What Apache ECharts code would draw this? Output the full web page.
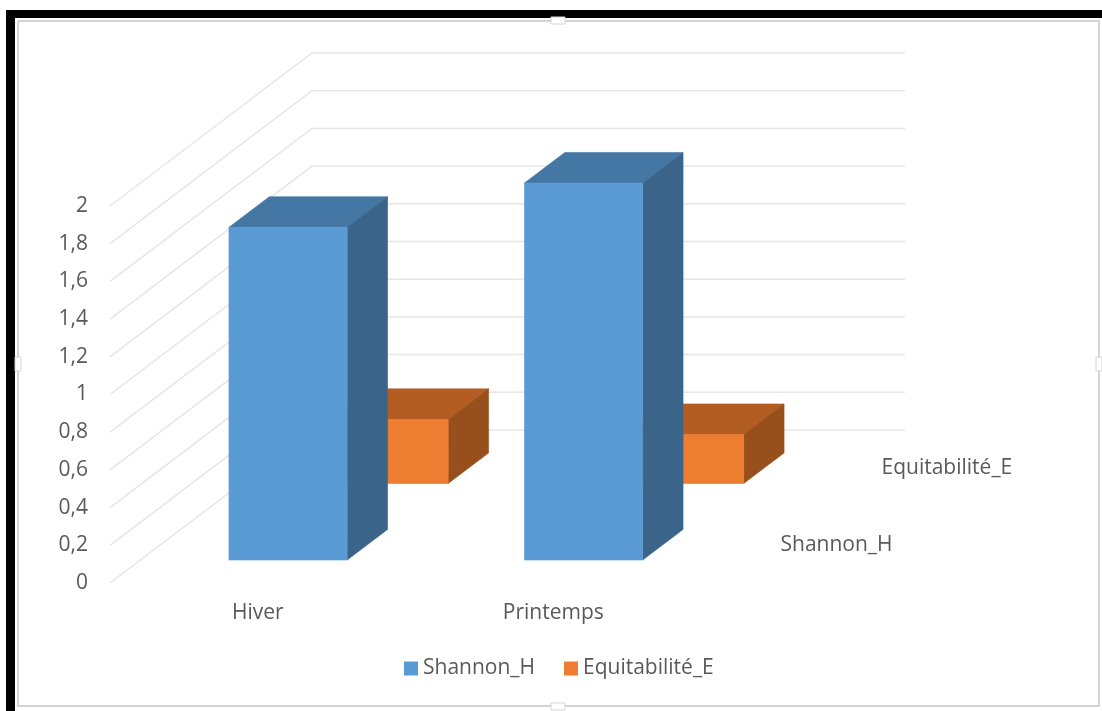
<!DOCTYPE html>
<html><head><meta charset="utf-8">
<style>html,body{margin:0;padding:0;background:#fff}#c{width:1102px;height:711px}</style>
<script src="https://cdn.jsdelivr.net/npm/echarts@6/dist/echarts.min.js"></script>
</head><body><div id="c"></div>
<script>
const categories = ['Hiver', 'Printemps'];
const seriesNames = ['Shannon_H', 'Equitabilité_E'];
const shannonValues = [1.765, 2.0];
const equitabiliteValues = [0.34, 0.26];
const yTicks = [0, 0.2, 0.4, 0.6, 0.8, 1, 1.2, 1.4, 1.6, 1.8, 2];

const DEPTH = [202, -153];            // oblique projection of the full depth axis
const FONT = 'Open Sans';
const TXT = '#595959';
const at = (p, d) => [p[0] + DEPTH[0] * d, p[1] + DEPTH[1] * d];
const poly = (points, fill) => ({ type: 'polygon', shape: { points }, style: { fill, stroke: fill, lineWidth: 0.6 } });

function barSeries(name, values, depthStart, colors, z) {
  const depthLen = 0.2;
  return {
    name, type: 'custom', coordinateSystem: 'cartesian2d', z,
    itemStyle: { color: colors.front },
    encode: { x: 0, y: 1 },
    data: values.map((v, i) => [i, v]),
    renderItem(params, api) {
      const bw = api.size([1, 0])[0] * 0.4;
      const top = api.coord([api.value(0), api.value(1)]);
      const base = api.coord([api.value(0), 0]);
      const l = top[0] - bw / 2, r = top[0] + bw / 2;
      const ftl = at([l, top[1]], depthStart), ftr = at([r, top[1]], depthStart);
      const fbl = at([l, base[1]], depthStart), fbr = at([r, base[1]], depthStart);
      const D = depthStart + depthLen;
      const btl = at([l, top[1]], D), btr = at([r, top[1]], D), bbr = at([r, base[1]], D);
      return { type: 'group', children: [
        poly([ftl, ftr, btr, btl], colors.top),
        poly([ftr, fbr, bbr, btr], colors.side),
        poly([ftl, ftr, fbr, fbl], colors.front)
      ]};
    }
  };
}

const wallSeries = {
  type: 'custom', coordinateSystem: 'cartesian2d', z: 1, silent: true,
  data: yTicks.map(v => [0, v]),
  encode: { y: 1 },
  renderItem(params, api) {
    const y = api.coord([0, api.value(1)])[1];
    const g = params.coordSys;
    const a = [g.x, y], b = at(a, 1), c = [b[0] + g.width + 2, b[1]];
    return { type: 'polyline', shape: { points: [a, b, c] },
      style: { stroke: '#e6e6e6', lineWidth: 1.5, fill: null } };
  }
};

const depthLabelSeries = {
  type: 'custom', coordinateSystem: 'cartesian2d', z: 1, silent: true,
  data: seriesNames.map((n, i) => [1, 0, i]),
  encode: { y: 1 },
  renderItem(params, api) {
    const i = api.value(2);
    const g = params.coordSys;
    const p = at([g.x + g.width, g.y + g.height], i === 0 ? 0.25 : 0.75);
    return { type: 'text', x: p[0] + 29, y: p[1],
      style: { text: seriesNames[i], fill: TXT, font: '21px "' + FONT + '"', align: 'left', verticalAlign: 'middle' } };
  }
};

const frame = [
  { type: 'rect', shape: { x: 6, y: 10, width: 1096, height: 8 }, style: { fill: '#000' } },
  { type: 'rect', shape: { x: 6, y: 10, width: 9, height: 701 }, style: { fill: '#000' } },
  { type: 'polyline', shape: { points: [[18, 21], [1099, 21], [1099, 706], [18, 706], [18, 21]] },
    style: { stroke: '#d4d4d4', lineWidth: 2, fill: null } },
  { type: 'rect', shape: { x: 551, y: 17, width: 14, height: 7 }, style: { fill: '#fff', stroke: '#d4d4d4', lineWidth: 1 } },
  { type: 'rect', shape: { x: 551, y: 703, width: 14, height: 7 }, style: { fill: '#fff', stroke: '#d4d4d4', lineWidth: 1 } },
  { type: 'rect', shape: { x: 15, y: 357, width: 6, height: 14 }, style: { fill: '#fff', stroke: '#d4d4d4', lineWidth: 1 } },
  { type: 'rect', shape: { x: 1096, y: 357, width: 6, height: 14 }, style: { fill: '#fff', stroke: '#d4d4d4', lineWidth: 1 } }
];

const chart = echarts.init(document.getElementById('c'), null, { renderer: 'canvas' });
chart.setOption({
  animation: false,
  backgroundColor: '#fff',
  graphic: frame,
  grid: { left: 110, top: 206, width: 591, height: 377, containLabel: false },
  legend: {
    data: seriesNames, left: 399, top: 653, itemWidth: 14, itemHeight: 14, itemGap: 29,
    icon: 'rect', selectedMode: false,
    textStyle: { color: TXT, fontFamily: FONT, fontSize: 21 }
  },
  xAxis: {
    type: 'category', data: categories,
    axisLine: { show: false }, axisTick: { show: false }, splitLine: { show: false },
    axisLabel: { color: TXT, fontFamily: FONT, fontSize: 21, margin: 20 }
  },
  yAxis: {
    type: 'value', min: 0, max: 2, interval: 0.2,
    axisLine: { show: false }, axisTick: { show: false }, splitLine: { show: false },
    axisLabel: { color: TXT, fontFamily: FONT, fontSize: 21, margin: 22,
      formatter: v => String(+v.toFixed(1)).replace('.', ',') }
  },
  series: [
    wallSeries,
    depthLabelSeries,
    barSeries(seriesNames[1], equitabiliteValues, 0.65, { front: '#ED7D31', top: '#B45D23', side: '#97501C' }, 2),
    barSeries(seriesNames[0], shannonValues, 0.15, { front: '#5B9BD5', top: '#4577A4', side: '#3A648A' }, 3)
  ]
});
</script></body></html>
